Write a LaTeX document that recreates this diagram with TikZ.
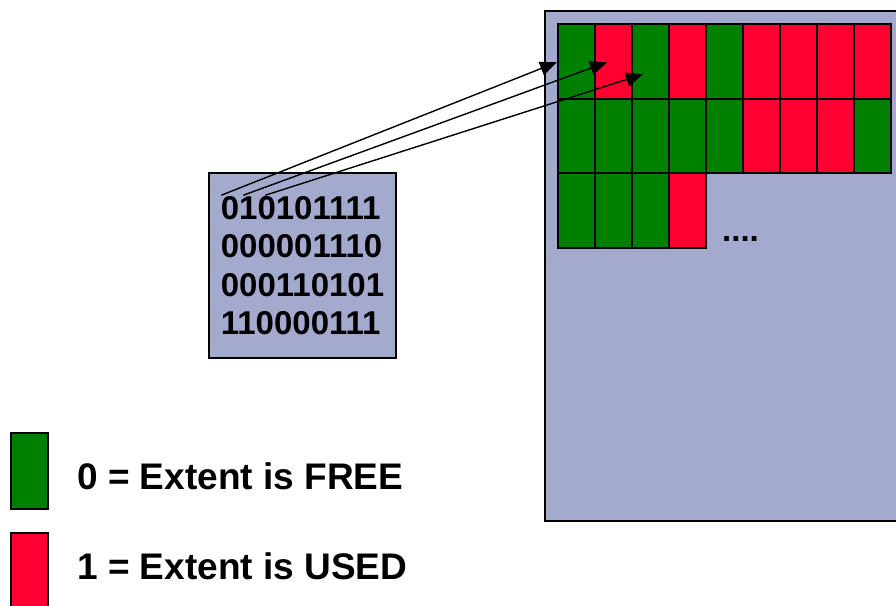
\documentclass[tikz,border=0pt]{standalone}
\usepackage{fontspec}
\setmainfont{Liberation Sans}
\usetikzlibrary{arrows.meta,calc,positioning}
\definecolor{ExtFree}{RGB}{0,128,0}
\definecolor{ExtUsed}{RGB}{255,0,51}
\definecolor{ExtPanel}{RGB}{164,170,206}

\begin{document}
\begin{tikzpicture}[
  x=1pt,y=-1pt,
  panel/.style={draw=black,line width=1.5pt,fill=ExtPanel,inner sep=0pt},
  cellbox/.style={draw=black,line width=2pt,minimum width=37pt,
    minimum height=74.5pt,inner sep=0pt,anchor=north west},
  bit0/.style={fill=ExtFree},
  bit1/.style={fill=ExtUsed},
  bitfont/.style={font=\fontsize{33}{38.5}\selectfont\bfseries},
  keyfont/.style={font=\fontsize{37}{40}\selectfont\bfseries},
  pointer/.style={draw=black,line width=1.4pt,-{Triangle[length=17pt,width=14pt]}}
]
\useasboundingbox (0,0) rectangle (896,605);
\node[panel,anchor=north west,minimum width=370pt,minimum height=510pt] (disk) at (544,10) {};
\foreach \r/\bits in {0/{0,1,0,1,0,1,1,1,1},1/{0,0,0,0,0,1,1,1,0},2/{0,0,0,1}}
  \foreach \b [count=\c] in \bits
    \node[cellbox,bit\b] (cell-\r-\c) at ({557+37*(\c-1)},{23+74.5*\r}) {};
\node[bitfont,anchor=base west,inner sep=0pt] (more) at (722,241) {....};
\node[panel,bitfont,align=left,minimum width=187pt,minimum height=185pt] (bitmap) at (302.5,265.5)
  {010101111\\000001110\\000110101\\110000111};
\coordinate (src1) at ($(bitmap.north west)+(13,23)$);
\coordinate (src2) at ($(bitmap.north west)+(35,23)$);
\coordinate (src3) at ($(bitmap.north west)+(57,23)$);
\draw[pointer] (src1) -- ($(cell-0-1.west)+(0,1)$);
\draw[pointer] (src2) -- ($(cell-0-2.west)+(13,1)$);
\draw[pointer] (src3) -- ($(cell-0-3.west)+(12,13)$);
\node[draw=black,line width=1.5pt,bit0,minimum width=37pt,minimum height=76pt,inner sep=0pt,anchor=north west] (keyfree) at (10,432) {};
\node[draw=black,line width=1.5pt,bit1,minimum width=37pt,minimum height=76pt,inner sep=0pt,anchor=north west] (keyused) at (10,532) {};
\node[keyfont,anchor=west,inner sep=0pt] (freetext) at (77,476) {0 = Extent is FREE};
\node[keyfont,anchor=west,inner sep=0pt] (usedtext) at (77,566) {1 = Extent is USED};
\end{tikzpicture}
\end{document}
